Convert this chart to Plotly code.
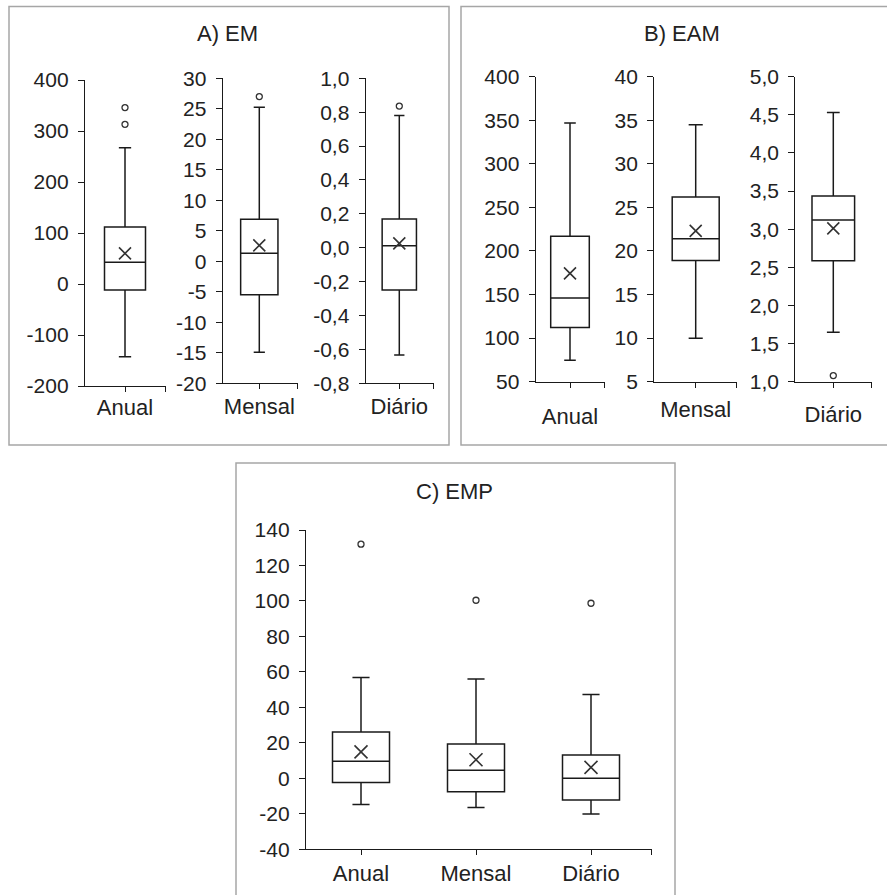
import plotly.graph_objects as go

# ---------------- data ----------------
categories = ["Anual", "Mensal", "Diário"]

# Panel A) EM
em_q1 = [-12.0, -5.5, -0.25]
em_median = [42.5, 1.3, 0.012]
em_q3 = [112.0, 6.9, 0.17]
em_low = [-142.5, -14.9, -0.633]
em_high = [267.0, 25.25, 0.78]
em_mean = [60.0, 2.6, 0.026]
em_outliers = [[313.0, 346.0], [27.0], [0.836]]

# Panel B) EAM
eam_q1 = [112.3, 18.9, 2.587]
eam_median = [146.0, 21.4, 3.12]
eam_q3 = [217.0, 26.2, 3.435]
eam_low = [74.7, 10.0, 1.65]
eam_high = [346.8, 34.5, 4.53]
eam_mean = [174.3, 22.3, 3.01]
eam_outliers = [[], [], [1.08]]

# Panel C) EMP
emp_q1 = [-2.4, -7.6, -12.2]
emp_median = [9.6, 4.6, 0.0]
emp_q3 = [26.1, 19.3, 13.2]
emp_low = [-14.8, -16.5, -20.1]
emp_high = [56.8, 56.0, 47.2]
emp_mean = [14.9, 10.5, 6.2]
emp_outliers = [[132.0], [100.4], [98.7]]

# tick labels
ticks_em_anual = [-200, -100, 0, 100, 200, 300, 400]
ticks_em_mensal = [-20, -15, -10, -5, 0, 5, 10, 15, 20, 25, 30]
ticks_em_diario = [-0.8, -0.6, -0.4, -0.2, 0.0, 0.2, 0.4, 0.6, 0.8, 1.0]
ticks_eam_anual = [50, 100, 150, 200, 250, 300, 350, 400]
ticks_eam_mensal = [5, 10, 15, 20, 25, 30, 35, 40]
ticks_eam_diario = [1.0, 1.5, 2.0, 2.5, 3.0, 3.5, 4.0, 4.5, 5.0]
ticks_emp = [-40, -20, 0, 20, 40, 60, 80, 100, 120, 140]

titles = ["A) EM", "B) EAM", "C) EMP"]

# ---------------- layout helpers ----------------
W, H = 887, 895
FONT = "Liberation Sans, Arial, sans-serif"
TXT = "#222222"
LINE = "#1a1a1a"
TICK_FS = 21
CAT_FS = 22


def fx(p):
    return p / W


def fy(p):
    return 1 - p / H


def fmt(v, dec):
    if dec == 0:
        s = str(int(round(v)))
    else:
        s = f"{v:.{dec}f}".replace(".", ",")
    if s.startswith("-") and s.strip("-0,") == "":
        s = s[1:]
    return s


fig = go.Figure()

# single-category subplots: (x_left, x_right, centre, y_top, y_bottom, ticks, decimals, label_standoff)
single = [
    (85, 166, 125, 80, 386, ticks_em_anual, 0, -3),
    (222.7, 297.7, 259.3, 78.3, 383.3, ticks_em_mensal, 0, -1),
    (365.7, 434, 399.3, 78.3, 383.3, ticks_em_diario, 1, -1),
    (535.7, 605, 570, 76.7, 381.7, ticks_eam_anual, 0, 11),
    (654.3, 736.7, 695.7, 76.7, 381.7, ticks_eam_mensal, 0, 4),
    (795.3, 872, 833.3, 76.7, 381.7, ticks_eam_diario, 1, 9),
]
box_px = [41, 37.3, 34.3, 38.6, 47, 42.6]

panels = [
    (em_q1, em_median, em_q3, em_low, em_high, em_mean, em_outliers),
    (eam_q1, eam_median, eam_q3, eam_low, eam_high, eam_mean, eam_outliers),
]

idx = 0
for p, stats in enumerate(panels):
    q1, med, q3, lo, hi, mn, outl = stats
    for k in range(3):
        xl, xr, c, yt, yb, tv, dec, stand = single[idx]
        n = idx + 1
        xa = "x" if n == 1 else f"x{n}"
        ya = "y" if n == 1 else f"y{n}"
        unit = 2 * (xr - c)
        fig.add_trace(go.Box(
            x=[0], q1=[q1[k]], median=[med[k]], q3=[q3[k]],
            lowerfence=[lo[k]], upperfence=[hi[k]],
            width=box_px[idx] / unit, whiskerwidth=0.3,
            line=dict(color=LINE, width=1.5), fillcolor="white",
            xaxis=xa, yaxis=ya, hoverinfo="skip",
        ))
        fig.add_trace(go.Scatter(
            x=[0], y=[mn[k]], mode="markers", xaxis=xa, yaxis=ya,
            marker=dict(symbol="x-thin", size=12, line=dict(color="#333", width=1.6)),
        ))
        if outl[k]:
            fig.add_trace(go.Scatter(
                x=[0] * len(outl[k]), y=outl[k], mode="markers", xaxis=xa, yaxis=ya,
                marker=dict(symbol="circle-open", size=6, color="#333",
                            line=dict(color="#333", width=1.3)),
            ))
        xkey = "xaxis" if n == 1 else f"xaxis{n}"
        ykey = "yaxis" if n == 1 else f"yaxis{n}"
        fig.update_layout({
            xkey: dict(
                domain=[fx(xl), fx(xr)], range=[(xl - c) / unit, 0.5], anchor=ya,
                tickvals=[0, 0.4999], ticktext=[categories[k], ""],
                showline=True, linecolor=LINE, linewidth=1.3, ticks="outside",
                ticklen=5, tickcolor=LINE, tickwidth=1.3, showgrid=False, zeroline=False,
                ticklabelstandoff=stand - 1, automargin=False,
                tickfont=dict(family=FONT, size=CAT_FS, color=TXT), fixedrange=True,
            ),
            ykey: dict(
                domain=[fy(yb), fy(yt)], range=[tv[0], tv[-1]], anchor=xa,
                tickvals=tv, ticktext=[fmt(v, dec) for v in tv],
                showline=True, linecolor=LINE, linewidth=1.3, ticks="outside",
                ticklen=6, tickcolor=LINE, tickwidth=1.3, showgrid=False, zeroline=False,
                ticklabelstandoff=5, automargin=False,
                tickfont=dict(family=FONT, size=TICK_FS, color=TXT), fixedrange=True,
            ),
        })
        idx += 1

# Panel C: three categories on one axis
c0, unitc = 361, 115
xlc, xrc = 306, 651.7
for k in range(3):
    fig.add_trace(go.Box(
        x=[k], q1=[emp_q1[k]], median=[emp_median[k]], q3=[emp_q3[k]],
        lowerfence=[emp_low[k]], upperfence=[emp_high[k]],
        width=57 / unitc, whiskerwidth=0.3,
        line=dict(color=LINE, width=1.5), fillcolor="white",
        xaxis="x7", yaxis="y7", hoverinfo="skip",
    ))
    fig.add_trace(go.Scatter(
        x=[k], y=[emp_mean[k]], mode="markers", xaxis="x7", yaxis="y7",
        marker=dict(symbol="x-thin", size=13, line=dict(color="#333", width=1.6)),
    ))
    fig.add_trace(go.Scatter(
        x=[k] * len(emp_outliers[k]), y=emp_outliers[k], mode="markers",
        xaxis="x7", yaxis="y7",
        marker=dict(symbol="circle-open", size=6, color="#333",
                    line=dict(color="#333", width=1.3)),
    ))
x_end = (xrc - c0) / unitc
fig.update_layout(
    xaxis7=dict(
        domain=[fx(xlc), fx(xrc)], range=[(xlc - c0) / unitc, x_end], anchor="y7",
        tickvals=[0, 1, 2, x_end - 1e-4], ticktext=categories + [""],
        showline=True, linecolor=LINE, linewidth=1.3, ticks="outside",
        ticklen=5, tickcolor=LINE, tickwidth=1.3, showgrid=False, zeroline=False,
        ticklabelstandoff=-1, automargin=False,
        tickfont=dict(family=FONT, size=CAT_FS, color=TXT), fixedrange=True,
    ),
    yaxis7=dict(
        domain=[fy(849.3), fy(530)], range=[ticks_emp[0], ticks_emp[-1]], anchor="x7",
        tickvals=ticks_emp, ticktext=[fmt(v, 0) for v in ticks_emp],
        showline=True, linecolor=LINE, linewidth=1.3, ticks="outside",
        ticklen=6, tickcolor=LINE, tickwidth=1.3, showgrid=False, zeroline=False,
        ticklabelstandoff=5, automargin=False,
        tickfont=dict(family=FONT, size=TICK_FS, color=TXT), fixedrange=True,
    ),
)

# panel frames
frame = dict(type="rect", xref="paper", yref="paper",
             line=dict(color="#a6a6a6", width=1.5), fillcolor="rgba(0,0,0,0)", layer="below")
shapes = [
    dict(frame, x0=fx(9), x1=fx(449), y0=fy(445), y1=fy(6.5)),
    dict(frame, x0=fx(461), x1=fx(892), y0=fy(445), y1=fy(6.5)),
    dict(frame, x0=fx(236), x1=fx(675), y0=fy(900), y1=fy(463)),
]

title_pos = [(228, 34), (682, 34), (455, 491)]
annotations = [
    dict(text=t, x=fx(px), y=fy(py), xref="paper", yref="paper", showarrow=False,
         xanchor="center", yanchor="middle", font=dict(family=FONT, size=22, color=TXT))
    for t, (px, py) in zip(titles, title_pos)
]

fig.update_layout(
    width=W, height=H, margin=dict(l=0, r=0, t=0, b=0, pad=0, autoexpand=False),
    autosize=False,
    paper_bgcolor="white", plot_bgcolor="white", showlegend=False,
    shapes=shapes, annotations=annotations,
    font=dict(family=FONT, color=TXT),
)

fig.write_html(
    "out.html",
    config={"displayModeBar": False, "responsive": False},
    post_script="document.body.style.margin='0';document.body.style.overflow='hidden';",
)
